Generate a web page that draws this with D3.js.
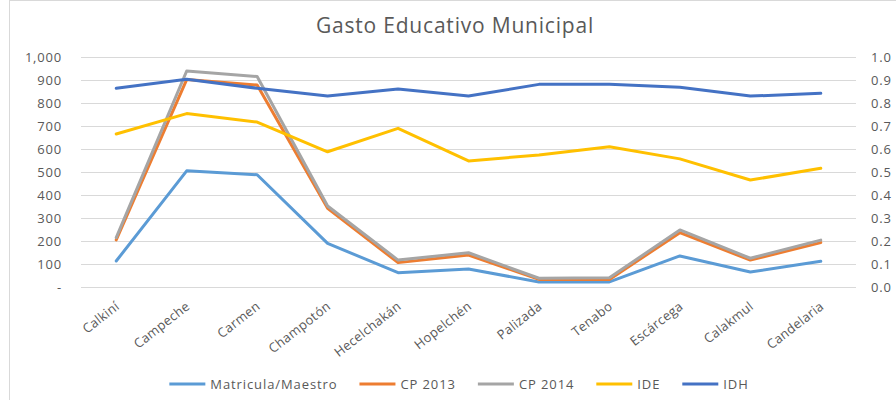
<!DOCTYPE html>
<html>
<head>
<meta charset="utf-8">
<script src="https://cdn.jsdelivr.net/npm/d3@7"></script>
<style>
  body { margin: 0; background: #fff; }
  svg { display: block; font-family: "Open Sans", "Liberation Sans", sans-serif; }
</style>
</head>
<body>
<div id="chart"></div>
<script>
// municipios
let municipios = ["Calkiní", "Campeche", "Carmen", "Champotón", "Hecelchakán", "Hopelchén",
                  "Palizada", "Tenabo", "Escárcega", "Calakmul", "Candelaria"];

// left axis series
let matricula = [113, 505, 488, 190, 62, 78, 22, 22, 135, 65, 112];
let cp2013 = [205, 902, 878, 342, 106, 139, 33, 33, 236, 117, 193];
let cp2014 = [215, 939, 915, 352, 117, 149, 38, 40, 248, 125, 204];

// right axis series
let ide = [0.665, 0.754, 0.717, 0.588, 0.69, 0.548, 0.574, 0.61, 0.557, 0.465, 0.516];
let idh = [0.864, 0.903, 0.864, 0.83, 0.861, 0.83, 0.881, 0.881, 0.868, 0.83, 0.842];

let leftTicks = [0, 100, 200, 300, 400, 500, 600, 700, 800, 900, 1000];
let rightTicks = [0, 0.1, 0.2, 0.3, 0.4, 0.5, 0.6, 0.7, 0.8, 0.9, 1.0];

let series = [
    {name: "Matricula/Maestro", values: matricula, axis: "left", color: "#5B9BD5"},
    {name: "CP 2013", values: cp2013, axis: "left", color: "#ED7D31"},
    {name: "CP 2014", values: cp2014, axis: "left", color: "#A5A5A5"},
    {name: "IDE", values: ide, axis: "right", color: "#FFC000"},
    {name: "IDH", values: idh, axis: "right", color: "#4472C4"}
];

let dim = {width: 896, height: 400};
let plot = {left: 81, right: 856, top: 57, bottom: 287};

let svg = d3.select("#chart").append("svg")
    .attr("width", dim.width)
    .attr("height", dim.height);

// chart frame
svg.append("rect")
    .attr("x", 9.5).attr("y", 0.5)
    .attr("width", 900).attr("height", 420)
    .attr("fill", "#fff")
    .attr("stroke", "#D9D9D9");

let scaleX = d3.scaleBand()
    .domain(municipios)
    .range([plot.left, plot.right]);

let scaleY = d3.scaleLinear()
    .domain([0, 1000])
    .range([plot.bottom, plot.top]);

let scaleY2 = d3.scaleLinear()
    .domain([0, 1])
    .range([plot.bottom, plot.top]);

// gridlines
svg.append("g")
    .selectAll("line")
    .data(leftTicks)
    .join("line")
    .attr("x1", plot.left).attr("x2", plot.right)
    .attr("y1", d => Math.round(scaleY(d)) + 0.5)
    .attr("y2", d => Math.round(scaleY(d)) + 0.5)
    .attr("stroke", "#D9D9D9")
    .attr("stroke-width", 1);

let fmtLeft = d => d === 0 ? "-" : d3.format(",")(d);

let axisL = svg.append("g")
    .attr("transform", "translate(" + (plot.left - 16) + ",0)")
    .call(d3.axisLeft(scaleY).tickValues(leftTicks).tickFormat(fmtLeft).tickSize(0).tickPadding(3));

let axisR = svg.append("g")
    .attr("transform", "translate(" + (plot.right + 12) + ",0)")
    .call(d3.axisRight(scaleY2).tickValues(rightTicks).tickFormat(d3.format(".1f")).tickSize(0).tickPadding(3));

[axisL, axisR].forEach(a => {
    a.select(".domain").remove();
    a.selectAll("text")
        .attr("fill", "#595959")
        .attr("font-size", 13)
        .attr("letter-spacing", 0.8)
        .attr("font-family", "Open Sans, sans-serif");
});

// category labels
svg.append("g")
    .selectAll("text")
    .data(municipios)
    .join("text")
    .attr("transform", d => "translate(" + (scaleX(d) + scaleX.bandwidth() / 2 + 4) + ",308) rotate(-38)")
    .attr("text-anchor", "end")
    .attr("font-size", 13)
    .attr("letter-spacing", 0.3)
    .attr("fill", "#595959")
    .text(d => d);

// lines
let lineLeft = d3.line()
    .x((d, i) => scaleX(municipios[i]) + scaleX.bandwidth() / 2)
    .y(d => scaleY(d));

let lineRight = d3.line()
    .x((d, i) => scaleX(municipios[i]) + scaleX.bandwidth() / 2)
    .y(d => scaleY2(d));

svg.append("g")
    .selectAll("path")
    .data(series)
    .join("path")
    .attr("d", s => s.axis === "left" ? lineLeft(s.values) : lineRight(s.values))
    .attr("fill", "none")
    .attr("stroke", s => s.color)
    .attr("stroke-width", 3)
    .attr("stroke-linejoin", "round")
    .attr("stroke-linecap", "round");

// title
svg.append("text")
    .attr("x", 455)
    .attr("y", 33)
    .attr("text-anchor", "middle")
    .attr("font-size", 21)
    .attr("letter-spacing", 0.8)
    .attr("fill", "#595959")
    .text("Gasto Educativo Municipal");

// legend, laid out left to right then centred
let legend = svg.append("g")
    .selectAll("g")
    .data(series)
    .join("g");

legend.append("line")
    .attr("x1", 0).attr("x2", 36)
    .attr("y1", 0).attr("y2", 0)
    .attr("stroke", d => d.color)
    .attr("stroke-width", 3);

legend.append("text")
    .attr("x", 41)
    .attr("y", 4.5)
    .attr("font-size", 13)
    .attr("letter-spacing", 0.9)
    .attr("fill", "#595959")
    .text(d => d.name);

let offsets = [];
let cursor = 0;
legend.each(function() {
    offsets.push(cursor);
    cursor += 41 + d3.select(this).select("text").node().getComputedTextLength() + 22;
});
let total = cursor - 22;
let start = 459 - total / 2;
legend.attr("transform", (d, i) => "translate(" + (start + offsets[i]) + ",384)");
</script>
</body>
</html>
